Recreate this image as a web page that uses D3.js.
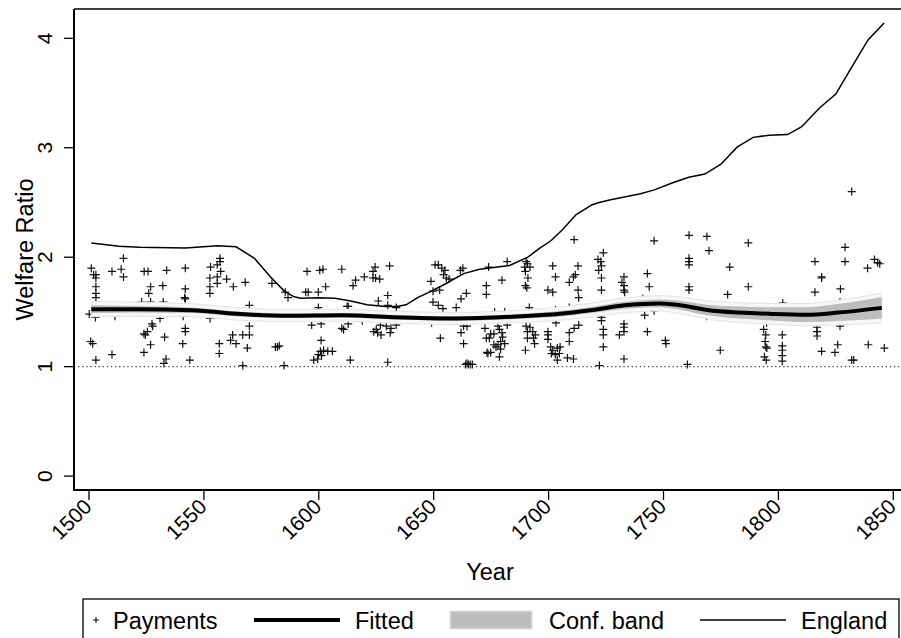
<!DOCTYPE html>
<html>
<head>
<meta charset="utf-8">
<script src="https://cdn.jsdelivr.net/npm/d3@7"></script>
<style>
  body { margin: 0; background: #fff; }
  text { font-family: "Liberation Sans", Arial, Helvetica, sans-serif; fill: #000; }
</style>
</head>
<body>
<svg id="chart" width="901" height="638"></svg>
<script>
// Welfare ratio chart

const xTicks = [1500, 1550, 1600, 1650, 1700, 1750, 1800, 1850];
const yTicks = [0, 1, 2, 3, 4];

// individual payments: [year, welfare ratio]
const payments = [
  [1515,1.99],[1501,1.90],[1502,1.84],[1503,1.84],[1503,1.81],[1510,1.87],[1514,1.89],[1515,1.82],[1524,1.87],[1525.7,1.87],
  [1533.8,1.88],[1541.9,1.90],[1503,1.73],[1503,1.67],[1503,1.63],[1526.8,1.73],[1526,1.67],[1532.1,1.74],[1541.9,1.71],[1541.6,1.63],
  [1541.9,1.62],[1526.8,1.59],[1552.9,1.91],[1555.8,1.93],[1557,1.99],[1557,1.96],[1557.3,1.87],[1552.6,1.81],[1555.8,1.82],[1555.8,1.76],
  [1559.9,1.80],[1562.8,1.73],[1568,1.77],[1552.6,1.73],[1552.6,1.67],[1569.8,1.56],[1579.6,1.76],[1585.4,1.68],[1586.6,1.63],
  [1502.8,1.45],[1530.9,1.44],[1527.4,1.39],[1527.7,1.37],[1525.4,1.32],[1523.9,1.30],[1524.5,1.29],[1541.9,1.35],[1541.9,1.32],[1532.9,1.27],
  [1500.7,1.23],[1501.6,1.21],[1526.8,1.20],[1540.8,1.21],[1556.7,1.21],[1556.7,1.12],[1562.5,1.29],[1561.6,1.24],[1564,1.21],[1566.9,1.29],
  [1569.8,1.37],[1569.8,1.29],[1568.9,1.17],[1581.1,1.18],[1582,1.18],[1582.8,1.19],[1510,1.11],[1523.9,1.13],[1503,1.06],[1533.5,1.07],
  [1532.6,1.03],[1543.9,1.06],[1566.9,1.01],[1584.9,1.01],
  [1511.3,1.46],[1532.3,1.59],[1522.9,1.59],[1552.7,1.44],[1541,1.46],[1500.1,1.48],
  [1594.9,1.87],[1600.4,1.88],[1601.8,1.89],[1610,1.89],[1624.5,1.91],[1623.6,1.87],[1623.6,1.81],[1624.7,1.81],[1626.5,1.80],[1630.8,1.92],
  [1616,1.79],[1614.9,1.74],[1619.8,1.82],[1603,1.73],[1594.3,1.68],[1595.4,1.68],[1599.8,1.68],[1599.8,1.54],[1612.3,1.55],[1612.8,1.55],
  [1625.9,1.60],[1630,1.65],[1630,1.56],[1633.7,1.54],[1650.6,1.93],[1652,1.93],[1653.5,1.90],[1654.9,1.88],[1654.3,1.84],[1655.5,1.81],
  [1656.7,1.80],[1648.8,1.78],[1649.7,1.69],[1652.6,1.70],[1649.7,1.59],[1652,1.56],[1654,1.53],[1661.6,1.88],[1662.7,1.90],[1664.2,1.67],
  [1661.9,1.62],[1659.8,1.54],[1672.9,1.74],[1672.9,1.66],
  [1596.9,1.38],[1601,1.39],[1601,1.24],[1610,1.35],[1610.8,1.34],[1612.8,1.39],[1618.9,1.42],[1623.9,1.32],[1625,1.34],[1625.6,1.31],
  [1627.1,1.29],[1626.8,1.38],[1629.4,1.37],[1631.4,1.35],[1633.7,1.38],[1631.1,1.31],[1600.7,1.14],[1602.1,1.15],[1603.9,1.14],[1605.9,1.14],
  [1599.8,1.11],[1601.2,1.10],[1599.5,1.07],[1597.8,1.06],[1613.7,1.06],[1630,1.04],[1652.9,1.26],[1649.1,1.40],[1661.9,1.31],[1663,1.37],
  [1664.5,1.37],[1663,1.21],[1663.9,1.02],[1665.1,1.02],[1665.9,1.02],[1666.8,1.02],[1664.5,1.03],[1672.3,1.35],[1672.9,1.26],[1673.2,1.13],
  [1676.5,1.50],[1680.9,1.50],[1703,1.52],[1712.2,1.53],
  [1673.9,1.91],[1682,1.96],[1679.7,1.79],[1690.2,1.96],[1690.8,1.94],[1689.6,1.91],[1691.9,1.91],[1689.9,1.87],[1691,1.81],[1689.9,1.74],
  [1690.5,1.72],[1691.6,1.54],[1701.8,1.92],[1703,1.82],[1699.7,1.70],[1701.8,1.68],[1709,1.77],[1710.8,1.82],[1711.6,1.84],[1712.8,1.92],
  [1712.8,1.70],[1713.1,1.63],[1709,1.54],[1711.1,2.16],[1721.5,1.98],[1722.7,1.96],[1723,1.92],[1721.8,1.88],[1723.8,2.04],[1723,1.81],
  [1723,1.70],[1732.8,1.82],[1731.9,1.77],[1732.8,1.74],[1732.8,1.70],[1733.1,1.68],[1743,1.85],[1743.8,1.73],[1745.9,2.15],
  [1741.8,1.47],[1743,1.32],[1750.8,1.24],[1751.1,1.21],[1723,1.45],[1723,1.42],[1723.8,1.34],[1723.8,1.29],[1723.8,1.18],[1732.8,1.39],
  [1732.8,1.36],[1732.8,1.32],[1730.8,1.29],[1732.8,1.07],[1722.1,1.01],[1760.4,1.02],[1713.1,1.38],[1711.1,1.35],[1709,1.31],[1709,1.23],
  [1708.2,1.08],[1710.8,1.07],[1703.2,1.40],[1699.7,1.32],[1699.7,1.29],[1699.7,1.25],[1700.9,1.18],[1701.8,1.15],[1703.8,1.17],[1705,1.18],
  [1701.2,1.12],[1702.9,1.11],[1704.7,1.12],[1703.8,1.06],[1689.9,1.15],[1690.2,1.37],[1691.9,1.36],[1690.8,1.32],[1693.1,1.32],[1694.2,1.29],
  [1693.4,1.26],[1693.9,1.21],[1690.8,1.26],[1682,1.38],[1678,1.37],[1678.6,1.34],[1679.7,1.31],[1674.8,1.30],[1676.2,1.30],[1680,1.27],
  [1674.2,1.26],[1679.1,1.23],[1680.9,1.21],[1678,1.20],[1676.2,1.20],[1677.1,1.18],[1679.1,1.16],[1674.8,1.13],[1673.6,1.12],[1678.6,1.09],
  [1761.1,2.20],[1768.9,2.19],[1769.8,2.06],[1761.1,1.99],[1761.1,1.96],[1761.1,1.93],[1761.1,1.73],[1761.1,1.70],[1778.8,1.91],[1786.9,2.13],
  [1786.9,1.73],[1777.9,1.66],[1831.9,2.60],[1829,2.09],[1815.9,1.96],[1829,1.96],[1841.8,1.98],[1843.2,1.95],[1844.1,1.94],[1838.8,1.90],
  [1818.8,1.81],[1818.8,1.82],[1815.9,1.68],[1827,1.71],[1774.7,1.15],[1793.6,1.34],[1794.5,1.29],[1794.2,1.23],[1794.5,1.18],[1795,1.17],
  [1793.9,1.09],[1794.7,1.06],[1801.7,1.29],[1801.7,1.19],[1801.7,1.15],[1801.7,1.10],[1801.7,1.05],[1816.8,1.36],[1816.8,1.32],[1816.8,1.28],
  [1818.8,1.14],[1825.8,1.20],[1824.6,1.13],[1831.9,1.06],[1832.8,1.06],[1839.1,1.20],[1846.1,1.17],
  [1741,1.62],[1801.9,1.58],[1826.8,1.59],[1768.7,1.46],[1745.9,1.51],[1826.8,1.37],[1794.9,1.40]
];

// England benchmark series
const englandYear = [1501,1513,1522,1542,1556,1564,1572,1579,1585,1589,1592,1600,1607,1614,1621,1629,1634,1638,1643,1649,
  1655,1663,1670,1683,1691,1696,1701,1706,1712,1719,1722,1727,1740,1746,1754,1761,1768,1775,1782,1789,
  1796,1804,1810,1818,1825,1831,1839,1846];
const englandRatio = [2.13,2.10,2.09,2.085,2.105,2.095,1.99,1.82,1.69,1.64,1.625,1.63,1.625,1.60,1.565,1.55,1.55,1.565,1.63,1.69,
  1.755,1.85,1.89,1.925,2.00,2.08,2.15,2.25,2.39,2.48,2.50,2.525,2.58,2.615,2.68,2.73,2.76,2.85,3.005,3.095,
  3.115,3.12,3.19,3.365,3.49,3.705,3.985,4.14];

// fitted curve with confidence half-width
const fitYear = [1501,1520,1545,1566,1587,1610,1632,1660,1690,1704,1719,1733,1748,1756,1769,1783,1797,1812,1826,1845];
const fitRatio = [1.525,1.525,1.515,1.48,1.465,1.47,1.452,1.44,1.463,1.482,1.518,1.56,1.578,1.565,1.518,1.494,1.482,1.475,1.494,1.537];
const fitHalf = [0.035,0.03,0.025,0.022,0.02,0.02,0.02,0.02,0.022,0.025,0.028,0.032,0.035,0.04,0.048,0.055,0.06,0.068,0.078,0.1];

const legendLabels = ["Payments", "Fitted", "Conf. band", "England"];

const svg = d3.select("#chart");
const plot = { left: 74, top: 9, right: 902, bottom: 490 };

const x = d3.scaleLinear().domain([1500, 1850]).range([89, 893.3]);
const y = d3.scaleLinear().domain([0, 4]).range([476.1, 38.3]);

svg.append("rect").attr("width", 901).attr("height", 638).attr("fill", "#fff");

// reference line at 1
svg.append("line")
  .attr("x1", plot.left).attr("x2", plot.right)
  .attr("y1", y(1)).attr("y2", y(1))
  .attr("stroke", "#444").attr("stroke-width", 1.3)
  .attr("stroke-dasharray", "1.3,2.8");

// payments
const plus = "M-4,0H4M0,-4V4";
svg.append("g").selectAll("path.pay").data(payments)
  .join("path")
  .attr("class", "pay")
  .attr("d", plus)
  .attr("transform", d => "translate(" + x(d[0]) + "," + y(d[1]) + ")")
  .attr("fill", "none")
  .attr("stroke", "#111")
  .attr("stroke-width", 1.2);

// confidence band
const fit = fitYear.map((yr, i) => ({ yr: yr, v: fitRatio[i], h: fitHalf[i] }));
const outer = d3.area().curve(d3.curveMonotoneX)
  .x(d => x(d.yr)).y0(d => y(d.v - d.h - 0.035)).y1(d => y(d.v + d.h + 0.035));
const band = d3.area().curve(d3.curveMonotoneX)
  .x(d => x(d.yr)).y0(d => y(d.v - d.h)).y1(d => y(d.v + d.h));

svg.append("path").datum(fit)
  .attr("d", outer)
  .attr("fill", "#f7f7f7")
  .attr("stroke", "#e4e4e4")
  .attr("stroke-width", 1);
svg.append("path").datum(fit)
  .attr("d", band)
  .attr("fill", "#bdbdbd");

// fitted line
const fitLine = d3.line().curve(d3.curveMonotoneX).x(d => x(d.yr)).y(d => y(d.v));
svg.append("path").datum(fit)
  .attr("d", fitLine)
  .attr("fill", "none")
  .attr("stroke", "#000")
  .attr("stroke-width", 4);

// England line
const england = englandYear.map((yr, i) => [yr, englandRatio[i]]);
svg.append("path").datum(england)
  .attr("d", d3.line().x(d => x(d[0])).y(d => y(d[1])))
  .attr("fill", "none")
  .attr("stroke", "#000")
  .attr("stroke-width", 1.5);

// frame
svg.append("line")
  .attr("x1", plot.left).attr("x2", plot.right)
  .attr("y1", plot.top).attr("y2", plot.top)
  .attr("stroke", "#000").attr("stroke-width", 1.5);

// y axis
const yAxis = svg.append("g").attr("transform", "translate(" + plot.left + ",0)");
yAxis.append("line")
  .attr("y1", plot.top).attr("y2", plot.bottom + 1)
  .attr("stroke", "#000").attr("stroke-width", 2);
yAxis.selectAll("line.tick").data(yTicks)
  .join("line")
  .attr("class", "tick")
  .attr("x1", -10).attr("x2", 0)
  .attr("y1", d => y(d)).attr("y2", d => y(d))
  .attr("stroke", "#000").attr("stroke-width", 1.3);
yAxis.selectAll("text").data(yTicks)
  .join("text")
  .attr("transform", d => "translate(-22," + y(d) + ") rotate(-90)")
  .attr("text-anchor", "middle")
  .style("font-size", "21px")
  .text(d => d);

svg.append("text")
  .attr("transform", "translate(33," + ((plot.top + plot.bottom) / 2) + ") rotate(-90)")
  .attr("text-anchor", "middle")
  .style("font-size", "23.5px")
  .text("Welfare Ratio");

// x axis
const xAxis = svg.append("g").attr("transform", "translate(0," + plot.bottom + ")");
xAxis.append("line")
  .attr("x1", plot.left - 1).attr("x2", plot.right)
  .attr("stroke", "#000").attr("stroke-width", 2);
xAxis.selectAll("line.tick").data(xTicks)
  .join("line")
  .attr("class", "tick")
  .attr("x1", d => x(d)).attr("x2", d => x(d))
  .attr("y1", 0).attr("y2", 10)
  .attr("stroke", "#000").attr("stroke-width", 1.3);
xAxis.selectAll("text").data(xTicks)
  .join("text")
  .attr("transform", d => "translate(" + (x(d) + 4) + ",18) rotate(-45)")
  .attr("text-anchor", "end")
  .style("font-size", "21px")
  .text(d => d);

svg.append("text")
  .attr("x", 490).attr("y", 580)
  .attr("text-anchor", "middle")
  .style("font-size", "23.5px")
  .text("Year");

// legend
const lg = svg.append("g");
lg.append("rect")
  .attr("x", 83).attr("y", 599).attr("width", 816).attr("height", 60)
  .attr("fill", "none").attr("stroke", "#000").attr("stroke-width", 1.3);
const ly = 620, lt = 629;
lg.append("path").attr("d", "M-3,0H3M0,-3V3")
  .attr("transform", "translate(96," + ly + ")")
  .attr("stroke", "#000").attr("stroke-width", 1);
lg.append("line").attr("x1", 254).attr("x2", 340).attr("y1", ly).attr("y2", ly)
  .attr("stroke", "#000").attr("stroke-width", 4);
lg.append("rect").attr("x", 450).attr("y", 611).attr("width", 82).attr("height", 18)
  .attr("fill", "#bdbdbd").attr("stroke", "#e4e4e4").attr("stroke-width", 1.5);
lg.append("line").attr("x1", 700).attr("x2", 786).attr("y1", ly).attr("y2", ly)
  .attr("stroke", "#000").attr("stroke-width", 1.5);
const textX = [113, 355, 549, 801];
lg.selectAll("text").data(legendLabels)
  .join("text")
  .attr("x", (d, i) => textX[i]).attr("y", lt)
  .style("font-size", "23.5px")
  .text(d => d);
</script>
</body>
</html>
